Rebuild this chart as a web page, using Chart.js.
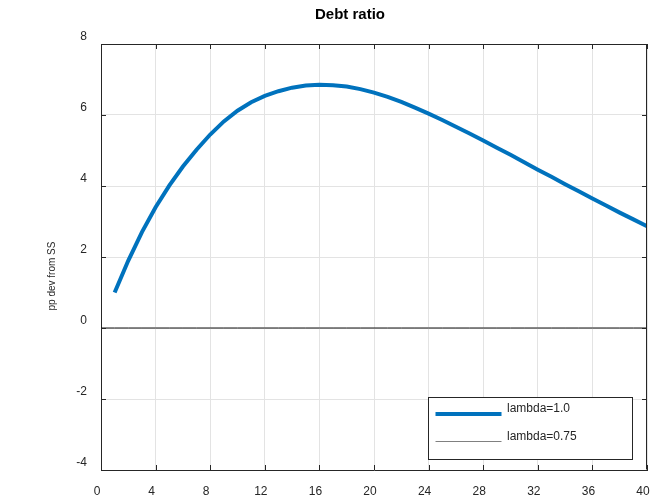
<!DOCTYPE html>
<html>
<head>
<meta charset="utf-8">
<style>
  html, body { margin: 0; padding: 0; background: #ffffff; }
  #wrap { width: 669px; height: 497px; position: relative; }
</style>
<script src="https://cdn.jsdelivr.net/npm/chart.js@4.4.1/dist/chart.umd.min.js"></script>
</head>
<body>
<div id="wrap"><canvas id="c" width="669" height="497"></canvas></div>
<script>
// Debt ratio response, percentage-point deviation from steady state
const chartTitle = 'Debt ratio';
const yAxisLabel = 'pp dev from SS';

const periods = [1, 2, 3, 4, 5, 6, 7, 8, 9, 10,
                 11, 12, 13, 14, 15, 16, 17, 18, 19, 20,
                 21, 22, 23, 24, 25, 26, 27, 28, 29, 30,
                 31, 32, 33, 34, 35, 36, 37, 38, 39, 40];
const debtLambda100 = [1.00, 1.90, 2.70, 3.40, 4.01, 4.55, 5.02, 5.45, 5.82, 6.12,
                       6.36, 6.54, 6.67, 6.77, 6.83, 6.85, 6.84, 6.80, 6.73, 6.63,
                       6.51, 6.37, 6.21, 6.04, 5.86, 5.67, 5.48, 5.28, 5.08, 4.88,
                       4.67, 4.46, 4.26, 4.05, 3.85, 3.65, 3.45, 3.25, 3.06, 2.87];

const periods075 = [0, 1, 2, 3, 4, 5, 6, 7, 8, 9, 10,
                    11, 12, 13, 14, 15, 16, 17, 18, 19, 20,
                    21, 22, 23, 24, 25, 26, 27, 28, 29, 30,
                    31, 32, 33, 34, 35, 36, 37, 38, 39, 40];
const debtLambda075 = [0, 0, 0, 0, 0, 0, 0, 0, 0, 0, 0,
                       0, 0, 0, 0, 0, 0, 0, 0, 0, 0,
                       0, 0, 0, 0, 0, 0, 0, 0, 0, 0,
                       0, 0, 0, 0, 0, 0, 0, 0, 0, 0];

const seriesLabels = ['lambda=1.0', 'lambda=0.75'];
const xTicks = [0, 4, 8, 12, 16, 20, 24, 28, 32, 36, 40];
const yTicks = [-4, -2, 0, 2, 4, 6, 8];

const FONT = '"Liberation Sans", Arial, Helvetica, sans-serif';
const AXIS_COLOR = '#262626';
const GRID_COLOR = '#e3e3e3';

function toPoints(xs, ys) {
  return xs.map((x, i) => ({ x: x, y: ys[i] }));
}

// Title, y-axis label, box frame with inward ticks (top/right too) and the boxed legend
const decorations = {
  id: 'decorations',
  afterDraw(chart) {
    const ctx = chart.ctx;
    const a = chart.chartArea;
    const xs = chart.scales.x, ys = chart.scales.y;
    ctx.save();

    // title
    ctx.fillStyle = '#000000';
    ctx.font = 'bold 15px ' + FONT;
    ctx.textAlign = 'center';
    ctx.textBaseline = 'middle';
    ctx.fillText(chartTitle, 350, 15);

    // y-axis label
    ctx.save();
    ctx.translate(52, 276);
    ctx.rotate(-Math.PI / 2);
    ctx.fillStyle = AXIS_COLOR;
    ctx.font = '10px ' + FONT;
    ctx.textAlign = 'center';
    ctx.textBaseline = 'middle';
    ctx.fillText(yAxisLabel, 0, 0);
    ctx.restore();

    // frame
    ctx.strokeStyle = AXIS_COLOR;
    ctx.lineWidth = 1;
    ctx.beginPath();
    ctx.moveTo(a.left + 0.5, a.top + 0.5);
    ctx.lineTo(a.right - 0.5, a.top + 0.5);
    ctx.lineTo(a.right - 0.5, a.bottom - 0.5);
    ctx.stroke();

    // inward tick marks
    const tl = 5;
    ctx.beginPath();
    xTicks.forEach(v => {
      const px = Math.round(xs.getPixelForValue(v)) + 0.5;
      ctx.moveTo(px, a.bottom);
      ctx.lineTo(px, a.bottom - tl);
      ctx.moveTo(px, a.top);
      ctx.lineTo(px, a.top + tl);
    });
    yTicks.forEach(v => {
      const py = Math.round(ys.getPixelForValue(v)) + 0.5;
      ctx.moveTo(a.left, py);
      ctx.lineTo(a.left + tl, py);
      ctx.moveTo(a.right, py);
      ctx.lineTo(a.right - tl, py);
    });
    ctx.stroke();

    // legend box
    const bx = 428.5, by = 397.5, bw = 204, bh = 62;
    ctx.fillStyle = '#ffffff';
    ctx.fillRect(bx, by, bw, bh);
    ctx.strokeStyle = AXIS_COLOR;
    ctx.lineWidth = 1;
    ctx.strokeRect(bx, by, bw, bh);

    const rows = [
      { y: 414, text: seriesLabels[0], color: '#0072BD', width: 4 },
      { y: 441.5, text: seriesLabels[1], color: '#808080', width: 1 }
    ];
    ctx.font = '12px ' + FONT;
    ctx.textAlign = 'left';
    ctx.textBaseline = 'middle';
    rows.forEach(r => {
      ctx.strokeStyle = r.color;
      ctx.lineWidth = r.width;
      ctx.beginPath();
      ctx.moveTo(435.5, r.y);
      ctx.lineTo(501.5, r.y);
      ctx.stroke();
      ctx.fillStyle = AXIS_COLOR;
      ctx.fillText(r.text, 507, r.y - 5);
    });

    ctx.restore();
  }
};

new Chart(document.getElementById('c'), {
  type: 'line',
  data: {
    datasets: [
      {
        label: seriesLabels[0],
        data: toPoints(periods, debtLambda100),
        borderColor: '#0072BD',
        borderWidth: 4,
        pointRadius: 0,
        tension: 0,
        fill: false,
        clip: 0
      },
      {
        label: seriesLabels[1],
        data: toPoints(periods075, debtLambda075),
        borderColor: '#111111',
        borderWidth: 1,
        pointRadius: 0,
        tension: 0,
        fill: false,
        clip: 0
      }
    ]
  },
  options: {
    responsive: false,
    animation: false,
    devicePixelRatio: 1,
    layout: { padding: { top: 44, right: 22, left: 0, bottom: 0 } },
    plugins: {
      legend: { display: false },
      title: { display: false },
      tooltip: { enabled: false }
    },
    scales: {
      x: {
        type: 'linear',
        min: 0,
        max: 40,
        afterBuildTicks: s => { s.ticks = xTicks.map(v => ({ value: v })); },
        afterFit: s => { s.height = 27; },
        grid: { color: GRID_COLOR, drawTicks: false },
        border: { display: true, color: AXIS_COLOR, width: 1 },
        ticks: {
          color: AXIS_COLOR,
          padding: 14,
          labelOffset: -4,
          maxRotation: 0,
          font: { family: FONT, size: 12 }
        }
      },
      y: {
        type: 'linear',
        min: -4,
        max: 8,
        afterBuildTicks: s => { s.ticks = yTicks.map(v => ({ value: v })); },
        afterFit: s => { s.width = 101; },
        grid: { color: GRID_COLOR, drawTicks: false },
        border: { display: true, color: AXIS_COLOR, width: 1 },
        ticks: {
          color: AXIS_COLOR,
          padding: 14,
          labelOffset: -7,
          font: { family: FONT, size: 12 }
        },
        title: { display: false }
      }
    }
  },
  plugins: [decorations]
});
</script>
</body>
</html>
